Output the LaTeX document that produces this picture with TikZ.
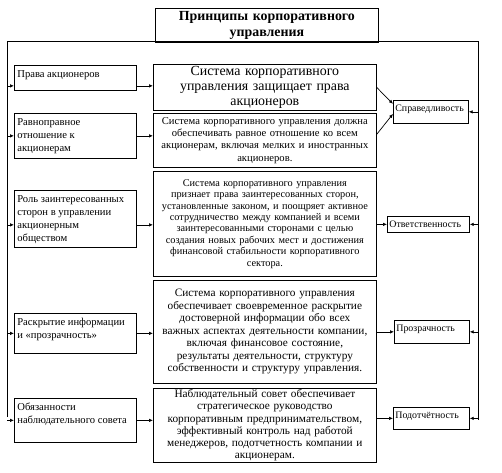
\documentclass[tikz,border=0pt]{standalone}
\usepackage{fontspec}
\setmainfont{Liberation Serif}
\usetikzlibrary{arrows.meta}
\usetikzlibrary{positioning}

\begin{document}
\begin{tikzpicture}[x=1pt, y=-1pt,
                >={Latex[length=4pt,width=3.5pt]},
                line width=0.7pt,
                every node/.style = {shape=rectangle, draw, anchor=north west, inner sep=2pt},
                lbox/.style = {font=\fontsize{10.6}{13}\selectfont, inner xsep=3pt,
                               execute at begin node={\begin{minipage}[t][#1][t]{116pt}\vspace*{3pt}\raggedright},
                               execute at end node={\end{minipage}}},
                mbox/.style = {align=center, text width=219pt},
                rbox/.style 2 args = {font=\fontsize{9.9}{11}\selectfont,
                               execute at begin node={\begin{minipage}[t][#2][t]{#1}\vspace*{3pt}\raggedright},
                               execute at end node={\end{minipage}}}]
            \useasboundingbox (0,0) rectangle (502,472);

            % frame round the whole scheme
            \coordinate (f_lt) at (7,41);
            \coordinate (f_lb) at (7,417);
            \coordinate (f_rt) at (478,41);
            \coordinate (f_rb) at (478,420);
            \draw (f_lb) -- (f_lt) -- (f_rt) -- (f_rb);

            \node[mbox, font=\bfseries\fontsize{13.9}{16}\selectfont, minimum height=34pt] (q_title) at (155,8) {Принципы корпоративного \\ управления};

            % left column
            \node[lbox=21pt] (q_rights) at (14,65) {Права акционеров};
            \node[lbox=41pt] (q_equal) at (14,113) {Равноправное \\ отношение к \\ акционерам};
            \node[lbox=53pt] (q_stake) at (14,190) {Роль заинтересованных \\ сторон в управлении \\ акционерным \\ обществом};
            \node[lbox=36pt] (q_disc) at (14,313) {Раскрытие информации \\ и «прозрачность»};
            \node[lbox=40pt] (q_board) at (14,398) {Обязанности \\ наблюдательного совета};

            % middle column
            \node[mbox, font=\fontsize{13.9}{15}\selectfont, minimum height=44pt] (q_rights_txt) at (153,64) {Система корпоративного \\ управления защищает права \\ акционеров};
            \node[mbox, font=\fontsize{10.6}{12.3}\selectfont, minimum height=54pt] (q_equal_txt) at (153,113) {Система корпоративного управления должна \\ обеспечивать равное отношение ко всем \\ акционерам, включая мелких и иностранных \\ акционеров.};
            \node[mbox, font=\fontsize{10.3}{11.4}\selectfont, minimum height=105pt] (q_stake_txt) at (153,171) {Система корпоративного управления \\ признает права заинтересованных сторон, \\ установленные законом, и поощряет активное \\ сотрудничество между компанией и всеми \\ заинтересованными сторонами с целью \\ создания новых рабочих мест и достижения \\ финансовой стабильности корпоративного \\ сектора.};
            \node[mbox, font=\fontsize{11.3}{12.5}\selectfont, minimum height=103pt] (q_disc_txt) at (153,280) {Система корпоративного управления \\ обеспечивает своевременное раскрытие \\ достоверной информации обо всех \\ важных аспектах деятельности компании, \\ включая финансовое состояние, \\ результаты деятельности, структуру \\ собственности и структуру управления.};
            \node[mbox, font=\fontsize{11.3}{12.3}\selectfont, inner ysep=0.5pt, minimum height=74pt] (q_board_txt) at (153,388) {Наблюдательный совет обеспечивает \\ стратегическое руководство \\ корпоративным предпринимательством, \\ эффективный контроль над работой \\ менеджеров, подотчетность компании и \\ акционерам.};

            % right column
            \node[rbox={71pt}{19pt}] (q_fair) at (393,100) {Справедливость};
            \node[rbox={78pt}{12pt}] (q_resp) at (387,216) {Ответственность};
            \node[rbox={71pt}{19pt}] (q_trans) at (394,320) {Прозрачность};
            \node[rbox={72pt}{18pt}] (q_acc) at (393,407) {Подотчётность};

            \coordinate (a_rights) at ([yshift=-8pt]q_rights.west);
            \coordinate (a_stake) at ([yshift=-6pt]q_stake.west);

            \path[->]
            (f_lt |- a_rights)         edge (a_rights)
            (f_lt |- q_equal.west)     edge (q_equal.west)
            (f_lt |- a_stake)          edge (a_stake)
            (f_lt |- q_disc.west)      edge (q_disc.west)
            (f_lt |- q_board.west)     edge (q_board.west)
            (q_rights.east |- a_rights) edge (q_rights_txt.west |- a_rights)
            (q_equal.east)             edge (q_equal_txt.west |- q_equal.east)
            (q_stake.east |- a_stake)  edge (q_stake_txt.west |- a_stake)
            (q_disc.east)              edge (q_disc_txt.west |- q_disc.east)
            (q_board.east)             edge (q_board_txt.west |- q_board.east)
            (q_rights_txt.east)        edge ([yshift=8pt]q_fair.west)
            ([yshift=6pt]q_equal_txt.east) edge ([yshift=-2pt]q_fair.west)
            (q_stake_txt.east |- q_resp.west)  edge (q_resp.west)
            (q_disc_txt.east |- q_trans.west)  edge (q_trans.west)
            (q_board_txt.east |- q_acc.west)   edge (q_acc.west)
            (f_rt |- q_fair.east)      edge (q_fair.east)
            (f_rt |- q_resp.east)      edge (q_resp.east)
            (f_rt |- q_trans.east)     edge (q_trans.east)
            (f_rt |- q_acc.east)       edge (q_acc.east);
        \end{tikzpicture}
\end{document}
